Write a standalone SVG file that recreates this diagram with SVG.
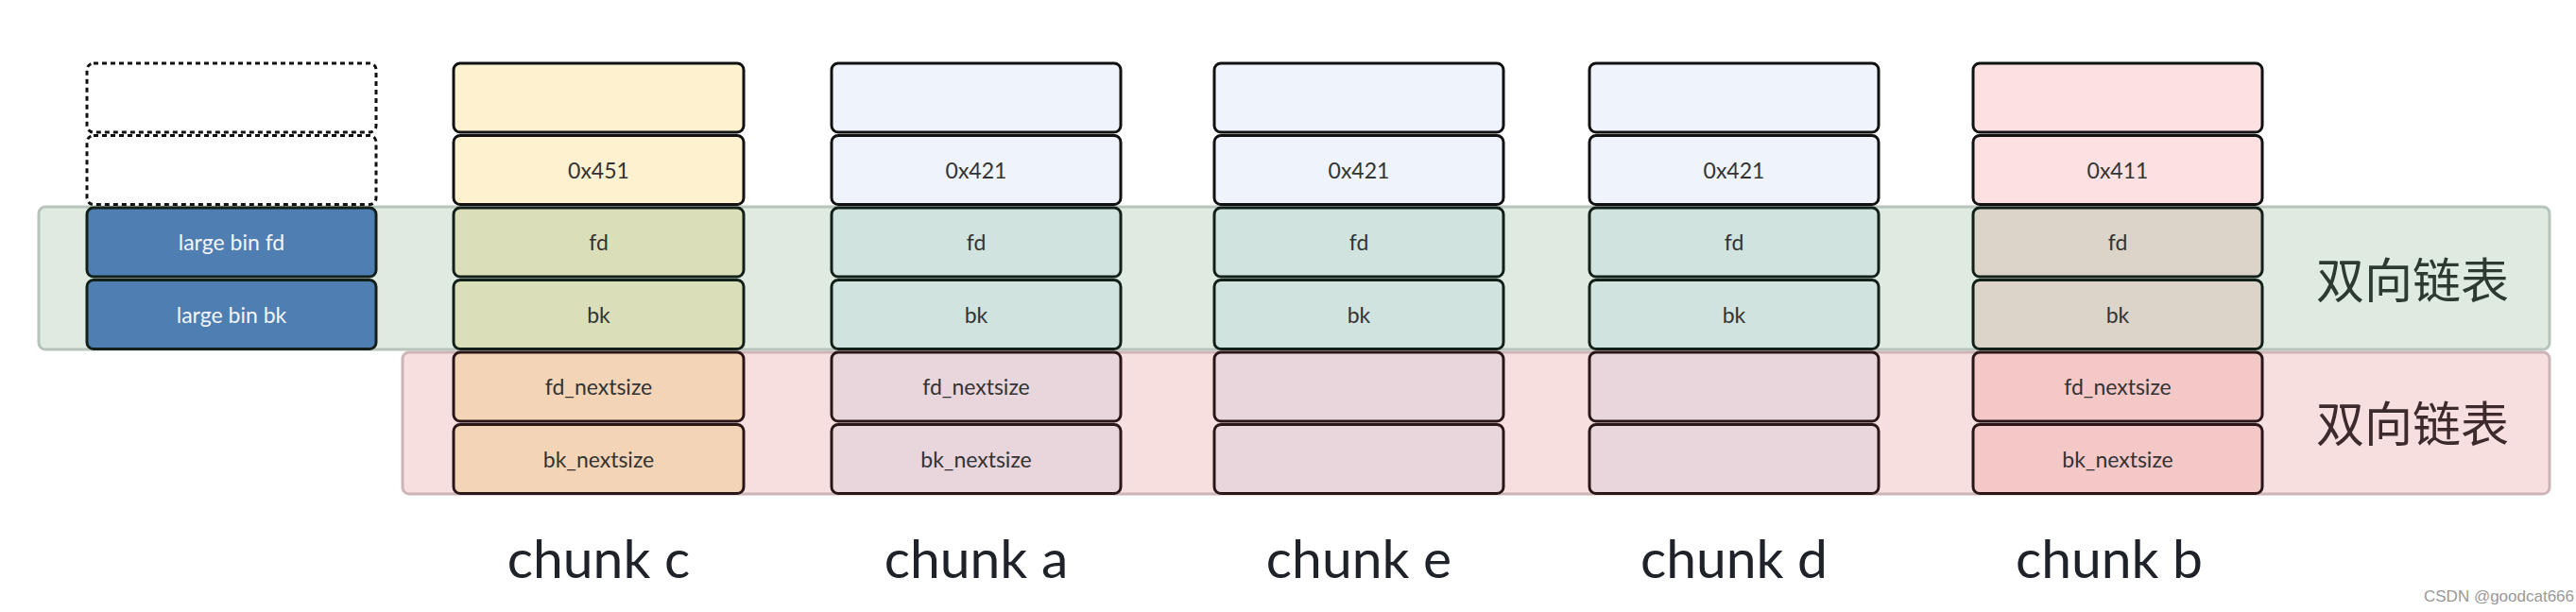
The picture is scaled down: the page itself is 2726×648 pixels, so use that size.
<svg xmlns="http://www.w3.org/2000/svg" width="2726" height="648" viewBox="0 0 2726 648">
<style>
.box{stroke:#111;stroke-width:3}
.gbox{stroke:#13201a;stroke-width:3}
.pbox{stroke:#2a1616;stroke-width:3}
.dash{fill:#fff;stroke:#111;stroke-width:3;stroke-dasharray:5 4}
.t{font-family:Lato,"Open Sans",sans-serif;font-size:23px;fill:#333;text-anchor:middle}
.tw{font-family:Lato,"Open Sans",sans-serif;font-size:23px;fill:#f4f6fa;text-anchor:middle}
.big{font-family:Lato,"Open Sans",sans-serif;font-size:57px;fill:#1f2329;text-anchor:middle}
.cn{font-family:"Noto Sans CJK SC","Noto Sans",sans-serif;font-size:51px;text-anchor:middle}
.wm{font-family:"Liberation Sans",sans-serif;font-size:17px;fill:#999}
</style>
<rect width="2726" height="648" fill="#fff"/>
<g id="band-green">
<rect x="41" y="219" width="2657" height="151" rx="7" fill="#dfeae1" stroke="#b7c4bb" stroke-width="3"/>
<text class="cn" x="2553" y="316" fill="#2c3a31">双向链表</text>
</g>
<g id="band-pink">
<rect x="426" y="373" width="2272" height="150" rx="7" fill="#f7dfe0" stroke="#cdb5b7" stroke-width="3"/>
<text class="cn" x="2553" y="468" fill="#3d2a2d">双向链表</text>
</g>
<g id="largebin">
<rect class="dash" x="92" y="67" width="306" height="73" rx="7"/>
<rect class="dash" x="92" y="143.5" width="306" height="73" rx="7"/>
<rect class="gbox" x="92" y="220" width="306" height="73" rx="7" fill="#4f7eb3"/>
<text class="tw" x="245" y="265">large bin fd</text>
<rect class="gbox" x="92" y="296.5" width="306" height="73" rx="7" fill="#4f7eb3"/>
<text class="tw" x="245" y="341.5">large bin bk</text>
</g>
<g id="chunk-c">
<rect class="box" x="480" y="67" width="307" height="73" rx="7" fill="#fdf1cf"/>
<rect class="box" x="480" y="143.5" width="307" height="73" rx="7" fill="#fdf1cf"/>
<text class="t" x="633.5" y="188.5">0x451</text>
<rect class="gbox" x="480" y="220" width="307" height="73" rx="7" fill="#dbdfb9"/>
<text class="t" x="633.5" y="265">fd</text>
<rect class="gbox" x="480" y="296.5" width="307" height="73" rx="7" fill="#dbdfb9"/>
<text class="t" x="633.5" y="341.5">bk</text>
<rect class="pbox" x="480" y="373" width="307" height="73" rx="7" fill="#f4d4b6"/>
<text class="t" x="633.5" y="418">fd_nextsize</text>
<rect class="pbox" x="480" y="449.5" width="307" height="73" rx="7" fill="#f4d4b6"/>
<text class="t" x="633.5" y="494.5">bk_nextsize</text>
<text class="big" x="633.5" y="612">chunk c</text>
</g>
<g id="chunk-a">
<rect class="box" x="880" y="67" width="306" height="73" rx="7" fill="#eef3fc"/>
<rect class="box" x="880" y="143.5" width="306" height="73" rx="7" fill="#eef3fc"/>
<text class="t" x="1033" y="188.5">0x421</text>
<rect class="gbox" x="880" y="220" width="306" height="73" rx="7" fill="#d0e3de"/>
<text class="t" x="1033" y="265">fd</text>
<rect class="gbox" x="880" y="296.5" width="306" height="73" rx="7" fill="#d0e3de"/>
<text class="t" x="1033" y="341.5">bk</text>
<rect class="pbox" x="880" y="373" width="306" height="73" rx="7" fill="#e8d6dc"/>
<text class="t" x="1033" y="418">fd_nextsize</text>
<rect class="pbox" x="880" y="449.5" width="306" height="73" rx="7" fill="#e8d6dc"/>
<text class="t" x="1033" y="494.5">bk_nextsize</text>
<text class="big" x="1033" y="612">chunk a</text>
</g>
<g id="chunk-e">
<rect class="box" x="1285" y="67" width="306" height="73" rx="7" fill="#eef3fc"/>
<rect class="box" x="1285" y="143.5" width="306" height="73" rx="7" fill="#eef3fc"/>
<text class="t" x="1438" y="188.5">0x421</text>
<rect class="gbox" x="1285" y="220" width="306" height="73" rx="7" fill="#d0e3de"/>
<text class="t" x="1438" y="265">fd</text>
<rect class="gbox" x="1285" y="296.5" width="306" height="73" rx="7" fill="#d0e3de"/>
<text class="t" x="1438" y="341.5">bk</text>
<rect class="pbox" x="1285" y="373" width="306" height="73" rx="7" fill="#e8d6dc"/>
<rect class="pbox" x="1285" y="449.5" width="306" height="73" rx="7" fill="#e8d6dc"/>
<text class="big" x="1438" y="612">chunk e</text>
</g>
<g id="chunk-d">
<rect class="box" x="1682" y="67" width="306" height="73" rx="7" fill="#eef3fc"/>
<rect class="box" x="1682" y="143.5" width="306" height="73" rx="7" fill="#eef3fc"/>
<text class="t" x="1835" y="188.5">0x421</text>
<rect class="gbox" x="1682" y="220" width="306" height="73" rx="7" fill="#d0e3de"/>
<text class="t" x="1835" y="265">fd</text>
<rect class="gbox" x="1682" y="296.5" width="306" height="73" rx="7" fill="#d0e3de"/>
<text class="t" x="1835" y="341.5">bk</text>
<rect class="pbox" x="1682" y="373" width="306" height="73" rx="7" fill="#e8d6dc"/>
<rect class="pbox" x="1682" y="449.5" width="306" height="73" rx="7" fill="#e8d6dc"/>
<text class="big" x="1835" y="612">chunk d</text>
</g>
<g id="chunk-b">
<rect class="box" x="2088" y="67" width="306" height="73" rx="7" fill="#fde1e2"/>
<rect class="box" x="2088" y="143.5" width="306" height="73" rx="7" fill="#fde1e2"/>
<text class="t" x="2241" y="188.5">0x411</text>
<rect class="gbox" x="2088" y="220" width="306" height="73" rx="7" fill="#dcd4c9"/>
<text class="t" x="2241" y="265">fd</text>
<rect class="gbox" x="2088" y="296.5" width="306" height="73" rx="7" fill="#dcd4c9"/>
<text class="t" x="2241" y="341.5">bk</text>
<rect class="pbox" x="2088" y="373" width="306" height="73" rx="7" fill="#f5c8c8"/>
<text class="t" x="2241" y="418">fd_nextsize</text>
<rect class="pbox" x="2088" y="449.5" width="306" height="73" rx="7" fill="#f5c8c8"/>
<text class="t" x="2241" y="494.5">bk_nextsize</text>
<text class="big" x="2232" y="612">chunk b</text>
</g>
<text class="wm" x="2565" y="637">CSDN @goodcat666</text>
</svg>
